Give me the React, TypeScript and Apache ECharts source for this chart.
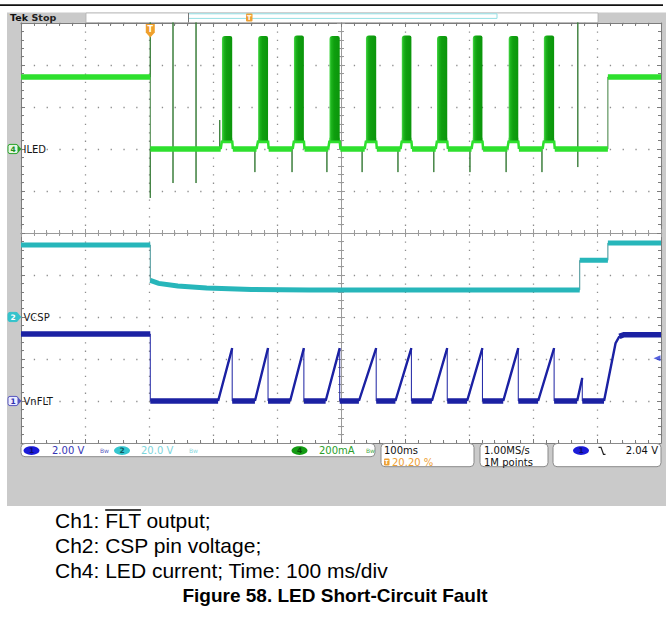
import React, { useEffect, useRef } from "react";
import * as echarts from "echarts";

type Pt = [number, number];

// ---------------- scope settings ----------------
const screenTimeMs = 1000; // 10 div x 100 ms
const timePerDivMs = 100;
const triggerMs = 202; // trigger position 20.20 %
const ch1VoltsPerDiv = 2;
const ch1GroundDiv = 1;
const ch2VoltsPerDiv = 20;
const ch2GroundDiv = 3;
const ch4MilliampsPerDiv = 200;
const ch4GroundDiv = 7;
const ch1TriggerLevelV = 2.04;

// ---------------- Ch1: VnFLT  [ms, V] ----------------
const ch1Trace: Pt[] = [
  [0, 3.19], [202, 3.19], [202, 0],
  [308, 0], [330, 2.52], [330, 0],
  [365.5, 0], [386, 2.52], [386, 0],
  [420.5, 0], [442, 2.52], [442, 0],
  [476, 0], [498, 2.52], [498, 0],
  [528, 0], [555, 2.52], [555, 0],
  [585, 0], [610, 2.52], [610, 0],
  [642, 0], [666, 2.52], [666, 0],
  [697, 0], [721, 2.52], [721, 0],
  [753.5, 0], [777, 2.52], [777, 0],
  [808, 0], [833, 2.52], [833, 0],
  [869, 0], [877, 1.1], [877, 0],
  [911, 0], [929, 2.75], [935, 3.08], [942, 3.16], [1000, 3.16],
];

// ---------------- Ch2: VCSP  [ms, V] ----------------
const ch2Trace: Pt[] = [
  [0, 34.3], [202, 34.3], [202, 17.4], [215, 16.0], [245, 14.8], [290, 13.8],
  [360, 13.1], [450, 12.9], [873, 12.9], [873, 27.0], [917, 27.0], [917, 35.2],
  [1000, 35.2],
];

// ---------------- Ch4: ILED  [ms, mA] ----------------
const ch4Trace: Pt[] = [
  [0, 343], [202, 343], [202, 620], [202, -233], [202, 0],
  [237.5, 0], [237.5, 620], [237.5, -162], [237.5, 0],
  [273.5, 0], [273.5, 620], [273.5, -162], [273.5, 0],
  [310.5, 0], [310.5, 138], [310.5, 0],
  [312, 0], [314, 40], [330, 40], [331, 0],
  [365.5, 0], [365.5, -110], [365.5, 0],
  [368, 0], [370.5, 40], [386, 40], [387, 0],
  [423.5, 0], [423.5, -110], [423.5, 0],
  [424.5, 0], [426.5, 40], [442, 40], [443, 0],
  [478, 0], [478, -110], [478, 0],
  [480, 0], [482, 40], [498, 40], [499, 0],
  [533, 0], [533, -110], [533, 0],
  [537, 0], [539, 40], [555, 40], [556, 0],
  [589, 0], [589, -110], [589, 0],
  [593, 0], [595, 40], [610, 40], [611, 0],
  [645, 0], [645, -110], [645, 0],
  [648, 0], [650, 40], [666, 40], [667, 0],
  [701.5, 0], [701.5, -110], [701.5, 0],
  [704, 0], [706, 40], [721, 40], [722, 0],
  [758, 0], [758, -110], [758, 0],
  [760, 0], [762, 40], [777, 40], [778, 0],
  [814, 0], [814, -110], [814, 0],
  [815, 0], [817, 40], [833, 40], [834, 0],
  [870, 0], [870, 620], [870, -86], [870, 0],
  [917, 0], [917, 343], [1000, 343],
];

// PWM bursts of the LED current (drawn as solid blocks)
const ch4PulseStartMs = [314, 370.5, 426.5, 482, 539, 595, 650, 706, 762, 817];
const ch4PulseEndMs = [330, 386, 442, 498, 555, 610, 666, 721, 777, 833];
const ch4PulseLowMa = [40, 40, 40, 40, 40, 40, 40, 40, 40, 40];
const ch4PulseHighMa = [538, 538, 540, 538, 540, 540, 538, 540, 538, 540];

// ---------------- layout ----------------
const W = 671;
const H = 626;
const G = { left: 21, top: 23, width: 640, height: 420 };
const DIVS = 10;
const UI = "DejaVu Sans, sans-serif";
const DOC = "Liberation Sans, Arial, sans-serif";

const GREEN = "#2ee02e";
const GREEN_THIN = "#3d7f3d";
const TEAL = "#27b6ba";
const TEAL_THIN = "#3f8f93";
const NAVY = "#1b21a3";

// split a trace into near-flat (thick, noisy band) and steep (thin ramp) parts
function splitPath(pts: Pt[], perDiv: number, steep: boolean) {
  const pxPerMs = G.width / 1000;
  const pxPerUnit = G.height / DIVS / perDiv;
  const out: (number | null)[][] = [];
  let open = false;
  for (let i = 0; i < pts.length - 1; i++) {
    const [t0, v0] = pts[i];
    const [t1, v1] = pts[i + 1];
    const dt = t1 - t0;
    const isSeg = dt > 0.5;
    const slope = isSeg ? Math.abs(((v1 - v0) * pxPerUnit) / (dt * pxPerMs)) : Infinity;
    const take = isSeg && (steep ? slope > 1.2 : slope <= 1.2);
    if (take) {
      if (!open) {
        out.push([t0, v0]);
        open = true;
      }
      out.push([t1, v1]);
    } else if (open) {
      out.push([t0, null]);
      open = false;
    }
  }
  return out;
}

function measure(text: string, font: string) {
  const ctx = document.createElement("canvas").getContext("2d");
  if (!ctx) return text.length * 10;
  ctx.font = font;
  return ctx.measureText(text).width;
}

const gratBorder = "#7c7c7c";
const gratCenter = "#9a9a9a";
const gratDots = "#8e8e8e";

function xAxisDef(position: string, inside: boolean, offset: number, split: boolean, color: string) {
  return {
    type: "value",
    min: 0,
    max: screenTimeMs,
    interval: timePerDivMs,
    position,
    offset,
    silent: true,
    axisLine: { show: true, onZero: false, lineStyle: { color, width: 1 } },
    axisTick: { show: true, inside, length: 4, lineStyle: { color } },
    minorTick: { show: true, splitNumber: 5, length: 3, lineStyle: { color } },
    axisLabel: { show: false },
    splitLine: {
      show: split,
      lineStyle: { color: gratDots, width: 1.3, type: [1.3, 7.1] },
    },
  };
}

function yAxisDef(position: string, inside: boolean, offset: number, split: boolean, color: string) {
  return {
    type: "value",
    min: 0,
    max: DIVS,
    interval: 1,
    position,
    offset,
    silent: true,
    axisLine: { show: true, onZero: false, lineStyle: { color, width: 1 } },
    axisTick: { show: true, inside, length: 4, lineStyle: { color } },
    minorTick: { show: true, splitNumber: 5, length: 3, lineStyle: { color } },
    axisLabel: { show: false },
    splitLine: {
      show: split,
      lineStyle: { color: gratDots, width: 1.3, type: [1.3, 11.5] },
    },
  };
}

function chanAxis(perDiv: number, groundDiv: number) {
  return {
    type: "value",
    show: false,
    min: -groundDiv * perDiv,
    max: (DIVS - groundDiv) * perDiv,
    axisLine: { onZero: false },
    splitLine: { show: false },
  };
}

function lineSeries(data: any[], yAxisIndex: number, color: string, width: number, z: number) {
  return {
    type: "line",
    xAxisIndex: 0,
    yAxisIndex,
    data,
    showSymbol: false,
    symbol: "none",
    connectNulls: false,
    clip: true,
    silent: true,
    z,
    lineStyle: { color, width, cap: "butt", join: "miter" },
  };
}

function divY(groundDiv: number) {
  return G.top + G.height * (1 - groundDiv / DIVS);
}

function buildGraphic() {
  const els: any[] = [];
  const txt = (x: number, y: number, text: string, o: any = {}, z = 20) =>
    els.push({
      type: "text",
      x,
      y,
      z,
      silent: true,
      style: {
        text,
        fill: o.fill || "#111",
        fontSize: o.size || 10,
        fontFamily: o.family || UI,
        fontWeight: o.weight || "normal",
        align: o.align || "left",
        verticalAlign: o.va || "middle",
      },
    });

  // page frame
  els.push({ type: "rect", z: -20, silent: true, shape: { x: 0, y: 4.3, width: 663, height: 1.7 }, style: { fill: "#111" } });
  els.push({ type: "rect", z: -20, silent: true, shape: { x: 7, y: 12.5, width: 659, height: 493.5 }, style: { fill: "#cacaca" } });
  els.push({ type: "rect", z: -19, silent: true, shape: { x: G.left, y: G.top, width: G.width, height: G.height }, style: { fill: "#ffffff" } });

  // header
  els.push({ type: "rect", z: -18, silent: true, shape: { x: 86, y: 13, width: 512, height: 9.5 }, style: { fill: "#fff", stroke: "#b0b0b0", lineWidth: 0.8 } });
  els.push({ type: "rect", z: -17, silent: true, shape: { x: 188.5, y: 13.8, width: 308.5, height: 4.6 }, style: { fill: "#fff", stroke: "#93dfe4", lineWidth: 1 } });
  els.push({ type: "line", z: -17, silent: true, shape: { x1: 188.5, y1: 13, x2: 188.5, y2: 22.5 }, style: { stroke: "#777", lineWidth: 1 } });
  els.push({ type: "rect", z: -16, silent: true, shape: { x: 246, y: 13.5, width: 6.5, height: 8, r: 1 }, style: { fill: "#eea033" } });
  txt(249.3, 18, "T", { fill: "#fff", size: 6.5, weight: "bold", align: "center" });
  txt(10, 17.8, "Tek", { size: 9.5, weight: "bold" });
  txt(31.5, 17.8, "Stop", { size: 9.5, weight: "bold", fill: "#222" });

  // trigger position marker on the graticule
  const tx = G.left + (G.width * triggerMs) / screenTimeMs;
  els.push({
    type: "polygon",
    z: 15,
    silent: true,
    shape: { points: [[tx - 4.5, 24], [tx + 4.5, 24], [tx + 4.5, 32.5], [tx, 37.5], [tx - 4.5, 32.5]] },
    style: { fill: "#efa02c" },
  });
  txt(tx, 29, "T", { fill: "#fff", size: 8, weight: "bold", align: "center" });

  // channel ground markers + labels
  const marker = (y: number, n: string, fill: string, stroke: string, textFill: string, label: string) => {
    els.push({ type: "rect", z: 15, silent: true, shape: { x: 8, y: y - 4.6, width: 10, height: 9.2, r: 2 }, style: { fill, stroke, lineWidth: 1 } });
    els.push({ type: "polygon", z: 15, silent: true, shape: { points: [[18, y - 3.5], [21.5, y], [18, y + 3.5]] }, style: { fill: stroke } });
    txt(13, y + 0.3, n, { fill: textFill, size: 7.5, weight: "bold", align: "center" });
    txt(23.5, y, label, { size: 10, fill: "#161616" });
  };
  marker(divY(ch4GroundDiv), "4", "#e4f7e4", "#2aa52a", "#1f8f1f", "ILED");
  marker(divY(ch2GroundDiv), "2", "#34c3cc", "#34c3cc", "#ffffff", "VCSP");
  marker(divY(ch1GroundDiv), "1", "#ececff", "#5656c0", "#3030b0", "VnFLT");

  // status bar
  const box = (x: number, w: number, h: number) =>
    els.push({ type: "rect", z: 12, silent: true, shape: { x, y: 443.5, width: w, height: h, r: 4 }, style: { fill: "#fff", stroke: "#8a8a8a", lineWidth: 1 } });
  const pill = (cx: number, n: string, fill: string, tf: string) => {
    els.push({ type: "ellipse", z: 13, silent: true, shape: { cx, cy: 450.6, rx: 8, ry: 4.3 }, style: { fill } });
    txt(cx, 450.8, n, { fill: tf, size: 7.5, weight: "bold", align: "center" });
  };
  box(21, 354, 13.2);
  pill(31.5, "1", "#1c1cd8", "#0c0c70");
  txt(52, 450.6, "2.00 V", { fill: "#3434b4", size: 10 });
  txt(100, 450, "Bw", { fill: "#5a5ac0", size: 6 });
  pill(122, "2", "#35c6cf", "#0d5a60");
  txt(141, 450.6, "20.0 V", { fill: "#7dd5db", size: 10 });
  txt(189, 450, "Bw", { fill: "#8ad8de", size: 6 });
  pill(299.5, "4", "#139b13", "#064f06");
  txt(319, 450.6, "200mA", { fill: "#2a9e2a", size: 10 });
  txt(366, 450, "Bw", { fill: "#4aaa4a", size: 6 });

  box(381, 93, 23.2);
  txt(384, 450.6, "100ms", { size: 10 });
  els.push({ type: "rect", z: 13, silent: true, shape: { x: 384, y: 458.5, width: 5.5, height: 7, r: 1 }, style: { fill: "#eea033" } });
  txt(386.7, 462.2, "T", { fill: "#fff", size: 5.5, weight: "bold", align: "center" });
  txt(392, 462.2, "20.20 %", { fill: "#eea033", size: 10 });

  box(480, 68, 23.2);
  txt(484, 450.6, "1.00MS/s", { size: 10 });
  txt(484, 462.2, "1M points", { size: 10 });

  box(553, 108, 23.2);
  pill(581, "1", "#1c1cd8", "#0c0c70");
  els.push({ type: "polyline", z: 13, silent: true, shape: { points: [[598.5, 447.3], [601, 447.3], [603.5, 454.3], [605.5, 454.3]] }, style: { stroke: "#222", lineWidth: 1.2, fill: "none" } });
  txt(658, 450.6, "2.04 V", { size: 10, align: "right" });

  // caption below the screenshot
  const capFont = 21;
  const capX = 55;
  txt(capX, 520, "Ch1: FLT output;", { family: DOC, size: capFont, fill: "#000" });
  const f = `${capFont}px Liberation Sans, Arial, sans-serif`;
  const ol0 = capX + measure("Ch1: ", f);
  const ol1 = capX + measure("Ch1: FLT", f);
  els.push({ type: "line", z: 20, silent: true, shape: { x1: ol0, y1: 510, x2: ol1, y2: 510 }, style: { stroke: "#000", lineWidth: 1.4 } });
  txt(capX, 545, "Ch2: CSP pin voltage;", { family: DOC, size: capFont, fill: "#000" });
  txt(capX, 570, "Ch4: LED current; Time: 100 ms/div", { family: DOC, size: capFont, fill: "#000" });
  txt(335, 595.5, "Figure 58. LED Short-Circuit Fault", { family: DOC, size: 19, weight: "bold", fill: "#000", align: "center" });

  return els;
}

function buildOption() {
  const pulseData = ch4PulseStartMs.map((s, i) => [s, ch4PulseEndMs[i], ch4PulseLowMa[i], ch4PulseHighMa[i]]);
  return {
    animation: false,
    backgroundColor: "#ffffff",
    grid: { left: G.left, top: G.top, width: G.width, height: G.height, show: false },
    xAxis: [
      xAxisDef("bottom", true, 0, true, gratBorder),
      xAxisDef("top", true, 0, false, gratBorder),
      xAxisDef("bottom", true, -G.height / 2, false, gratCenter),
      xAxisDef("bottom", false, -G.height / 2, false, gratCenter),
    ],
    yAxis: [
      yAxisDef("left", true, 0, true, gratBorder),
      yAxisDef("right", true, 0, false, gratBorder),
      yAxisDef("left", true, -G.width / 2, false, gratCenter),
      yAxisDef("left", false, -G.width / 2, false, gratCenter),
      chanAxis(ch1VoltsPerDiv, ch1GroundDiv),
      chanAxis(ch2VoltsPerDiv, ch2GroundDiv),
      chanAxis(ch4MilliampsPerDiv, ch4GroundDiv),
    ],
    series: [
      lineSeries(ch2Trace, 5, TEAL_THIN, 1, 2),
      lineSeries(ch1Trace, 4, NAVY, 1, 2),
      lineSeries(ch4Trace, 6, GREEN_THIN, 1, 2),
      lineSeries(splitPath(ch2Trace, ch2VoltsPerDiv, false), 5, TEAL, 5, 3),
      lineSeries(splitPath(ch1Trace, ch1VoltsPerDiv, false), 4, NAVY, 5.5, 3),
      lineSeries(splitPath(ch1Trace, ch1VoltsPerDiv, true), 4, NAVY, 2.4, 3),
      lineSeries(splitPath(ch4Trace, ch4MilliampsPerDiv, false), 6, GREEN, 5.5, 3),
      lineSeries(splitPath(ch4Trace, ch4MilliampsPerDiv, true), 6, GREEN, 2.5, 3),
      {
        type: "custom",
        xAxisIndex: 0,
        yAxisIndex: 6,
        z: 4,
        clip: true,
        silent: true,
        data: pulseData,
        encode: { x: [0, 1], y: [2, 3] },
        renderItem: (_p: any, api: any) => {
          const a = api.coord([api.value(0), api.value(3)]);
          const b = api.coord([api.value(1), api.value(2)]);
          return {
            type: "rect",
            shape: { x: a[0], y: a[1], width: b[0] - a[0], height: b[1] - a[1], r: [3, 2, 0, 0] },
            style: {
              fill: new echarts.graphic.LinearGradient(0, 0, 1, 0, [
                { offset: 0, color: "#4ad84a" },
                { offset: 0.2, color: "#1cb21c" },
                { offset: 0.45, color: "#0f9f0f" },
                { offset: 1, color: "#0b950b" },
              ]),
            },
          };
        },
      },
      {
        type: "scatter",
        xAxisIndex: 0,
        yAxisIndex: 4,
        data: [[screenTimeMs, ch1TriggerLevelV]],
        symbol: "triangle",
        symbolSize: [6, 7],
        symbolRotate: 90,
        symbolOffset: [-4, 0],
        itemStyle: { color: "#2a3ad6" },
        clip: false,
        silent: true,
        z: 6,
      },
    ],
    graphic: { elements: buildGraphic() },
  };
}

export default function App() {
  const ref = useRef<HTMLDivElement>(null);
  useEffect(() => {
    if (!ref.current) return;
    const chart = echarts.init(ref.current, undefined, { renderer: "svg", width: W, height: H });
    chart.setOption(buildOption() as any);
    return () => chart.dispose();
  }, []);
  return <div ref={ref} style={{ position: "absolute", left: 0, top: 0, width: W, height: H }} />;
}
